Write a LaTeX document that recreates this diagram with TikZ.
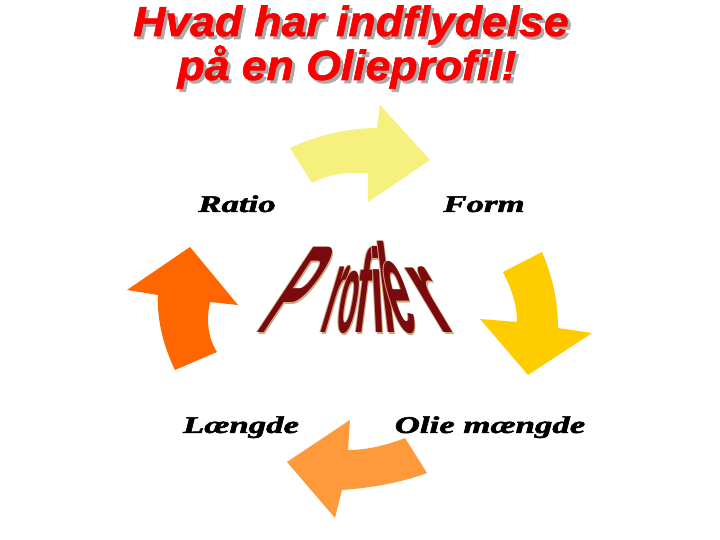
\documentclass[tikz,border=0pt]{standalone}
\usepackage{fontspec}
\setmainfont{Liberation Serif}[BoldItalicFeatures={FakeBold=2}]
\newfontfamily\titelfont{Liberation Sans}[BoldItalicFeatures={FakeBold=1.5}]
\newfontfamily\bogstavfont{Liberation Sans}
\usetikzlibrary{positioning}
\definecolor{titelroed}{RGB}{250,0,0}
\definecolor{titelskygge}{RGB}{170,170,170}
\definecolor{profilroed}{RGB}{122,10,14}
\definecolor{profilkant}{RGB}{205,170,130}
\definecolor{pilgul}{RGB}{246,240,126}
\definecolor{pilguld}{RGB}{255,204,0}
\definecolor{pilorange}{RGB}{255,154,60}
\definecolor{pilroed}{RGB}{255,102,0}

\begin{document}
\begin{tikzpicture}[
    x=0.5pt, y=-0.5pt,
    overskrift/.style={font=\titelfont\bfseries\itshape\fontsize{21}{21}\selectfont,
      xscale=1.06, transform shape, inner sep=0pt, anchor=base},
    etiket/.style={font=\bfseries\itshape\fontsize{12}{12}\selectfont,
      xscale=1.45, transform shape, inner sep=0pt, anchor=base},
    bogstav/.style={font=\bogstavfont\bfseries\fontsize{20}{20}\selectfont,
      transform shape, inner sep=0pt, anchor=base west},
    pil/.style={draw=none}
    ]
\useasboundingbox[fill=white] (0,0) rectangle (720,540);

%Overskrift
\node[overskrift, text=titelskygge] (titel1skygge) at (354,39) {Hvad har indflydelse};
\node[overskrift, text=titelroed] (titel1) at (351,36) {Hvad har indflydelse};
\node[overskrift, text=titelskygge] (titel2skygge) at (350,83) {på en Olieprofil!};
\node[overskrift, text=titelroed] (titel2) at (347,80) {på en Olieprofil!};

%Pilene rundt om
\fill[pil, pilgul] (290,148) .. controls (315,136) and (347,128) .. (377,128)
    -- (380,105) -- (430,160) -- (368,202) -- (368,173)
    .. controls (345,172) and (325,175) .. (312,183) -- cycle;
\fill[pil, pilguld] (503,272) .. controls (512,290) and (517,305) .. (517,322)
    -- (480,319) -- (528,375) -- (592,333) -- (558,328)
    .. controls (558,300) and (552,275) .. (542,252) -- cycle;
\fill[pil, pilorange] (405,438) .. controls (385,446) and (365,450) .. (348,450)
    -- (350,420) -- (287,462) -- (335,518) -- (342,490)
    .. controls (370,488) and (400,483) .. (427,473) -- cycle;
\fill[pil, pilroed] (175,370) .. controls (163,345) and (157,320) .. (158,295)
    -- (127,290) -- (190,247) -- (238,305) -- (210,302)
    .. controls (206,320) and (208,338) .. (217,352) -- cycle;

%Etiketter
\node[etiket] (ratio) at (237,212) {Ratio};
\node[etiket] (form) at (484,212) {Form};
\node[etiket] (laengde) at (241,433) {Længde};
\node[etiket] (oliemaengde) at (490,433) {Olie mængde};

%Profiler i midten, bogstaverne vifter ud
\foreach \x/\b/\sx/\sy/\hld [count=\i] in {254/P/1.15/3.1/0.66, 318/r/0.85/3.1/0.3,
    334/o/0.75/2.85/0.18, 352/f/1.0/2.95/0.13, 373/i/1.1/2.97/-0.05,
    385/l/1.1/3.15/-0.12, 398/e/1.0/3.3/-0.3, 439/r/1.6/3.05/-0.6} {
  \node[bogstav, text=profilkant, xslant=\hld, xscale=\sx, yscale=\sy]
    (kant\i) at (\x+1.5,334.5) {\b};
  \node[bogstav, text=profilkant, xslant=\hld, xscale=\sx, yscale=\sy]
    (kanto\i) at (\x-0.8,332.2) {\b};
  \node[bogstav, text=profilroed, xslant=\hld, xscale=\sx, yscale=\sy]
    (bogstav\i) at (\x,333) {\b};
}
\end{tikzpicture}
\end{document}
